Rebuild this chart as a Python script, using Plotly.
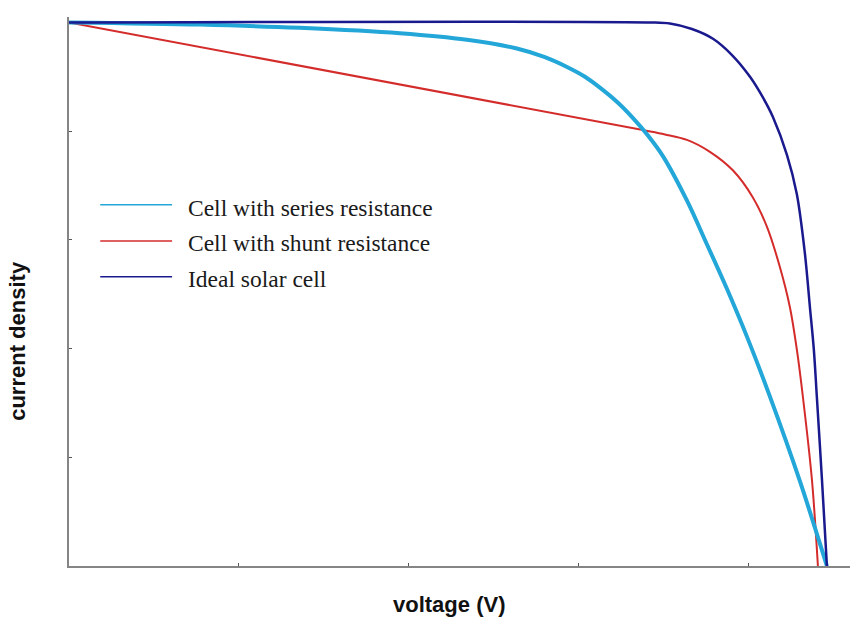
import plotly.graph_objects as go

# Current density vs. voltage for three solar-cell models (arbitrary units)
series_v = [0.0, 0.771, 1.360, 1.949, 2.344, 2.638, 2.803, 2.933, 3.039, 3.127, 3.227, 3.322,
            3.410, 3.498, 3.640, 3.757, 3.875, 3.993, 4.128, 4.305, 4.464]
series_j = [5.00, 4.98, 4.95, 4.90, 4.84, 4.76, 4.68, 4.59, 4.50, 4.40, 4.27, 4.12,
            3.96, 3.77, 3.36, 2.96, 2.55, 2.11, 1.56, 0.78, 0.0]

shunt_v = [0.0, 3.380, 3.510, 3.640, 3.775, 3.910, 4.028, 4.111, 4.187, 4.246, 4.287, 4.323, 4.376, 4.411]
shunt_j = [5.00, 4.01, 3.97, 3.92, 3.81, 3.64, 3.39, 3.12, 2.75, 2.38, 1.99, 1.55, 0.79, 0.0]

ideal_v = [0.0, 3.422, 3.539, 3.669, 3.793, 3.905, 4.011, 4.087, 4.146, 4.229, 4.287, 4.334,
           4.364, 4.387, 4.405, 4.435, 4.464]
ideal_j = [5.00, 5.00, 4.99, 4.94, 4.85, 4.70, 4.50, 4.31, 4.13, 3.78, 3.42, 2.88,
           2.38, 1.99, 1.55, 0.79, 0.0]

legend_labels = ["Cell with series resistance", "Cell with shunt resistance", "Ideal solar cell"]
colors = ["#23a6d8", "#d42b2b", "#1a1a8e"]

fig = go.Figure()
fig.add_trace(go.Scatter(x=shunt_v, y=shunt_j, mode="lines",
                         line=dict(color=colors[1], width=2, shape="spline", smoothing=0.9)))
fig.add_trace(go.Scatter(x=series_v, y=series_j, mode="lines",
                         line=dict(color=colors[0], width=4, shape="spline", smoothing=0.9)))
fig.add_trace(go.Scatter(x=ideal_v, y=ideal_j, mode="lines",
                         line=dict(color=colors[2], width=2.5, shape="spline", smoothing=0.9)))

# Hand-drawn legend: short sample lines with serif captions
line_y = [0.658, 0.592, 0.527]
text_y = [0.653, 0.588, 0.522]
for label, col, ly, ty in zip(legend_labels, colors, line_y, text_y):
    fig.add_shape(type="line", xref="paper", yref="paper", x0=0.040, x1=0.132, y0=ly, y1=ly,
                  line=dict(color=col, width=1.5))
    fig.add_annotation(xref="paper", yref="paper", x=0.150, y=ty, text=label, showarrow=False,
                       xanchor="left", yanchor="middle",
                       font=dict(family="Liberation Serif, Times New Roman, serif", size=23.5, color="#1a1a1a"))

fig.add_annotation(xref="paper", yref="paper", x=0.487, y=-0.070, text="<b>voltage (V)</b>", showarrow=False,
                   xanchor="center", yanchor="middle",
                   font=dict(family="Liberation Sans, Arial, sans-serif", size=22, color="#111111"))
fig.add_annotation(xref="paper", yref="paper", x=-0.066, y=0.411, text="<b>current density</b>", showarrow=False,
                   textangle=-90, xanchor="center", yanchor="middle",
                   font=dict(family="Liberation Sans, Arial, sans-serif", size=22, color="#111111"))

axis_common = dict(showgrid=False, zeroline=False, showline=True, linecolor="#858585", linewidth=2,
                   ticks="inside", ticklen=3, tickcolor="#555555", showticklabels=False)
fig.update_xaxes(range=[0, 4.6], tickvals=[1, 2, 3, 4], **axis_common)
fig.update_yaxes(range=[0, 5.05], tickvals=[1, 2, 3, 4], **axis_common)

fig.update_layout(
    width=850, height=620,
    margin=dict(l=69, r=0, t=17, b=54),
    plot_bgcolor="white", paper_bgcolor="white",
    showlegend=False,
)

fig.write_html("out.html")
